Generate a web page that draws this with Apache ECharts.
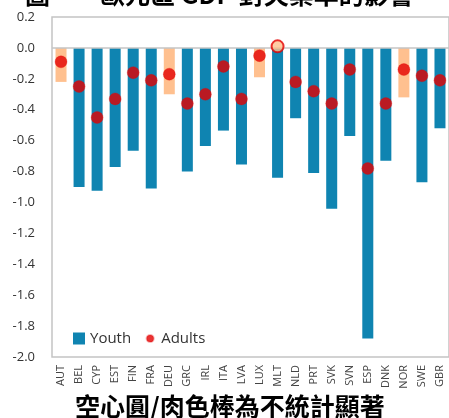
<!DOCTYPE html>
<html>
<head>
<meta charset="utf-8">
<script src="https://cdn.jsdelivr.net/npm/echarts@6/dist/echarts.min.js"></script>
<style>
    html, body { margin: 0; padding: 0; background: #fff; }
    #chart { width: 449px; height: 418px; }
</style>
</head>
<body>
<div id="chart"></div>
<script>
// data
const countries = ['AUT', 'BEL', 'CYP', 'EST', 'FIN', 'FRA', 'DEU', 'GRC', 'IRL', 'ITA', 'LVA',
    'LUX', 'MLT', 'NLD', 'PRT', 'SVK', 'SVN', 'ESP', 'DNK', 'NOR', 'SWE', 'GBR'];
const youth = [-0.22, -0.90, -0.925, -0.77, -0.665, -0.91, -0.30, -0.80, -0.635, -0.535, -0.755,
    -0.19, -0.84, -0.455, -0.81, -1.04, -0.57, -1.88, -0.73, -0.32, -0.87, -0.52];
const adults = [-0.09, -0.25, -0.45, -0.33, -0.16, -0.21, -0.17, -0.36, -0.30, -0.12, -0.33,
    -0.05, 0.01, -0.22, -0.28, -0.36, -0.14, -0.78, -0.36, -0.14, -0.18, -0.21];
const youthNotSig = ['AUT', 'DEU', 'LUX', 'NOR'];
const adultsNotSig = ['MLT'];

const BLUE = '#0f84b1';
const PEACH = '#ffc08f';
const RED = '#e30000';

const chart = echarts.init(document.getElementById('chart'));

const barData = youth.map((v, i) => ({
    value: v,
    itemStyle: { color: youthNotSig.includes(countries[i]) ? PEACH : BLUE }
}));

const dotData = adults.map((v, i) => {
    if (adultsNotSig.includes(countries[i])) {
        return { value: v, itemStyle: { color: PEACH, borderColor: RED, borderWidth: 2 } };
    }
    return v;
});

chart.setOption({
    animation: false,
    title: [
        {
            text: '圖　　歐元區 GDP 對失業率的影響',
            left: 20,
            top: -23,
            textStyle: { fontSize: 25, fontWeight: 'bold', color: '#000', fontFamily: 'Noto Sans CJK TC' }
        },
        {
            text: '空心圓/肉色棒為不統計顯著',
            left: 70,
            top: 389,
            textStyle: { fontSize: 25, fontWeight: 'bold', color: '#000', fontFamily: 'Noto Sans CJK TC' }
        }
    ],
    legend: {
        left: 68,
        top: 326,
        itemWidth: 12,
        itemHeight: 12,
        itemGap: 12,
        textStyle: { fontSize: 15, color: '#333', fontFamily: 'Open Sans' },
        data: [
            { name: 'Youth', icon: 'rect' },
            { name: 'Adults', icon: 'path://M0,0 M10,10 M5,2 a3,3 0 1,0 0.01,0 Z' }
        ]
    },
    grid: {
        left: 52,
        top: 17,
        width: 400,
        height: 340,
        show: true,
        borderColor: '#c4c4c4',
        borderWidth: 1.5
    },
    xAxis: {
        type: 'category',
        data: countries,
        position: 'bottom',
        axisLine: { show: false },
        axisTick: { show: false },
        axisLabel: {
            rotate: 90,
            fontSize: 11,
            color: '#444',
            margin: 8,
            interval: 0,
            fontFamily: 'Open Sans'
        }
    },
    yAxis: {
        type: 'value',
        min: -2,
        max: 0.2,
        interval: 0.2,
        axisLine: { show: false },
        axisTick: { show: false },
        splitLine: { show: false },
        axisLabel: {
            fontSize: 13,
            color: '#333',
            margin: 17,
            fontFamily: 'Open Sans',
            formatter: v => v.toFixed(1)
        }
    },
    series: [
        {
            name: 'Youth',
            type: 'bar',
            barWidth: 11,
            itemStyle: { color: BLUE },
            data: barData,
            markLine: {
                silent: true,
                symbol: 'none',
                label: { show: false },
                lineStyle: { color: '#c4c4c4', width: 1.5, type: 'solid' },
                data: [{ yAxis: 0 }]
            }
        },
        {
            name: 'Adults',
            type: 'scatter',
            symbol: 'circle',
            symbolSize: 12,
            itemStyle: { color: RED, borderColor: 'rgba(227,0,0,0.35)', borderWidth: 1 },
            data: dotData,
            z: 5
        }
    ]
});
</script>
</body>
</html>
